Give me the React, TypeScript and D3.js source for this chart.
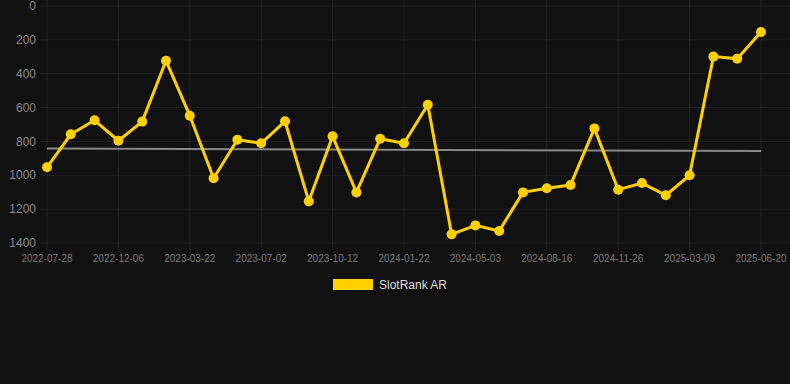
import React from "react";
import * as d3 from "d3";

const dates = [
  "2022-07-28", "2022-09-10", "2022-10-22", "2022-12-06", "2023-01-10", "2023-02-14",
  "2023-03-22", "2023-04-25", "2023-05-29", "2023-07-02", "2023-08-05", "2023-09-08",
  "2023-10-12", "2023-11-15", "2023-12-19", "2024-01-22", "2024-02-25", "2024-03-30",
  "2024-05-03", "2024-06-06", "2024-07-11", "2024-08-16", "2024-09-20", "2024-10-23",
  "2024-11-26", "2024-12-30", "2025-02-03", "2025-03-09", "2025-04-12", "2025-05-17",
  "2025-06-20",
];
const rankAR = [
  953, 758, 675, 796, 683, 323, 648, 1018, 790, 811, 681, 1154, 770, 1101, 784, 811,
  583, 1349, 1296, 1329, 1101, 1077, 1057, 723, 1085, 1046, 1118, 1000, 299, 311, 154,
];
const trendStart = 842;
const trendEnd = 857;
const yTicks = [0, 200, 400, 600, 800, 1000, 1200, 1400];
const seriesName = "SlotRank AR";

export default function App() {
  const W = 790;
  const H = 384;
  const x = d3.scalePoint<string>().domain(dates).range([47, 761]);
  const y = d3.scaleLinear().domain([0, 1400]).range([6, 243]);
  const line = d3
    .line<number>()
    .x((_, i) => x(dates[i]) as number)
    .y((d) => y(d));
  const tickDates = dates.filter((_, i) => i % 3 === 0);
  const gold = "#FFD000";
  return (
    <svg
      width={W}
      height={H}
      style={{ position: "absolute", left: 0, top: 0, background: "#111111", display: "block" }}
      fontFamily="Arial, 'Liberation Sans', sans-serif"
    >
      <rect x={0} y={0} width={W} height={H} fill="#111111" />
      {yTicks.map((t) => (
        <g key={t}>
          <line x1={40} x2={W} y1={y(t)} y2={y(t)} stroke="#222222" strokeWidth={1} />
          <text x={36} y={y(t)} dy="0.35em" textAnchor="end" fill="#8a8a8a" fontSize={12}>
            {t}
          </text>
        </g>
      ))}
      {tickDates.map((d) => (
        <g key={d}>
          <line x1={x(d)} x2={x(d)} y1={0} y2={250} stroke="#222222" strokeWidth={1} />
          <text x={x(d)} y={262} textAnchor="middle" fill="#7a7a7a" fontSize={10}>
            {d}
          </text>
        </g>
      ))}
      <line
        x1={x(dates[0])}
        x2={x(dates[dates.length - 1])}
        y1={y(trendStart)}
        y2={y(trendEnd)}
        stroke="#888888"
        strokeWidth={2}
      />
      <path d={line(rankAR) || ""} fill="none" stroke={gold} strokeWidth={3} strokeLinejoin="round" />
      {rankAR.map((v, i) => (
        <circle key={i} cx={x(dates[i])} cy={y(v)} r={5} fill={gold} />
      ))}
      <rect x={333} y={279} width={40} height={11} fill={gold} />
      <text x={379} y={285} dy="0.35em" fill="#dddddd" fontSize={12}>
        {seriesName}
      </text>
    </svg>
  );
}
